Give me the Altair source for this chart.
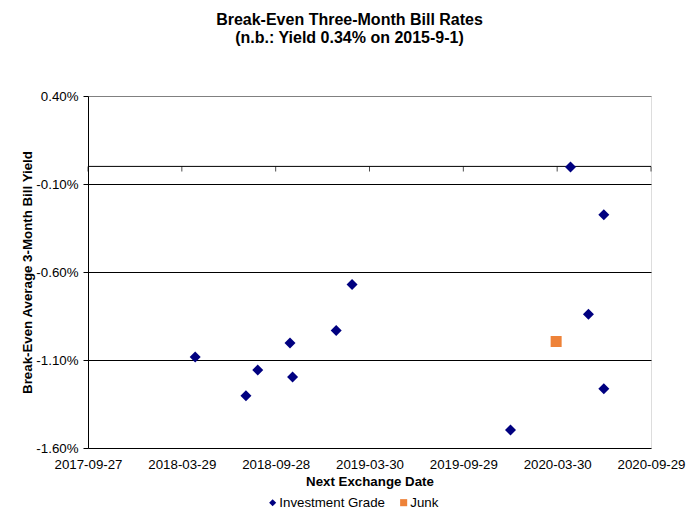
import altair as alt
import pandas as pd

# ---- data ----
ig_dates = ["2018-04-24", "2018-08-01", "2018-08-24", "2018-10-26", "2018-10-31",
            "2019-01-24", "2019-02-24", "2019-12-30", "2020-04-25", "2020-05-30",
            "2020-06-29", "2020-06-29"]
ig_yields = [-1.083, -1.303, -1.157, -1.004, -1.196,
             -0.933, -0.671, -1.498, -0.003, -0.840,
             -0.275, -1.264]
junk_dates = ["2020-03-28"]
junk_yields = [-0.995]

series_names = ["Investment Grade", "Junk"]
series_colors = ["#000080", "#EE8238"]
series_shapes = ["diamond", "square"]

x_tick_dates = ["2017-09-27", "2018-03-29", "2018-09-28", "2019-03-30",
                "2019-09-29", "2020-03-30", "2020-09-29"]
y_tick_values = [0.4, -0.1, -0.6, -1.1, -1.6]
x_axis_crossing = [0.0]

title_lines = ["Break-Even Three-Month Bill Rates", "(n.b.: Yield 0.34% on 2015-9-1)"]
x_title = "Next Exchange Date"
y_title = "Break-Even Average 3-Month  Bill Yield"

FONT = "Liberation Sans"


def to_dt(s):
    y, m, d = (int(v) for v in s.split("-"))
    return alt.DateTime(year=y, month=m, date=d, utc=True)


df = pd.DataFrame({
    "date": ig_dates + junk_dates,
    "yield": ig_yields + junk_yields,
    "series": [series_names[0]] * len(ig_dates) + [series_names[1]] * len(junk_dates),
})
ticks_df = pd.DataFrame({"date": x_tick_dates, "yield": x_axis_crossing * len(x_tick_dates)})
zero_df = pd.DataFrame({"yield": x_axis_crossing})

x_scale = alt.Scale(type="utc", domain=[to_dt(x_tick_dates[0]), to_dt(x_tick_dates[-1])])
y_scale = alt.Scale(domain=[y_tick_values[-1], y_tick_values[0]], nice=False, zero=False)

legend = alt.Legend(
    title=None, orient="none", direction="horizontal",
    legendX=178, legendY=400,
    symbolSize=50, symbolStrokeWidth=0,
    labelFont=FONT, labelFontSize=13.3, labelColor="black",
    labelOffset=0, columnPadding=12, padding=0,
)

x_axis = alt.Axis(
    title=x_title, values=[to_dt(s) for s in x_tick_dates],
    labelExpr="utcFormat(datum.value, '%Y-%m-%d')",
    ticks=False, domain=False, grid=False,
    labelPadding=9, labelFlush=False, labelOverlap=False,
    labelFont=FONT, labelFontSize=13.3, labelColor="black",
    titleFont=FONT, titleFontSize=13.3, titleFontWeight="bold",
    titleColor="black", titlePadding=4,
)
y_axis = alt.Axis(
    title=y_title, values=y_tick_values,
    labelExpr="(datum.value < 0 ? '-' : '') + format(abs(datum.value), '.2f') + '%'",
    tickSize=5, tickColor="black", domainColor="black",
    grid=True,
    gridColor=alt.condition("datum.value > 0.3", alt.value("#808080"), alt.value("black")),
    labelPadding=5, labelFont=FONT, labelFontSize=13.3, labelColor="black",
    titleFont=FONT, titleFontSize=13.3, titleFontWeight="bold", titleColor="black",
    titleX=-61, titleY=176, titleBaseline="middle",
)

# horizontal axis line crossing at 0
zero_rule = alt.Chart(zero_df).mark_rule(color="black", strokeWidth=1).encode(
    y=alt.Y("yield:Q", scale=y_scale, axis=y_axis)
)

# tick marks on the crossing axis
zero_ticks = alt.Chart(ticks_df).mark_tick(
    orient="vertical", size=5, thickness=1, color="black", yOffset=2.5
).encode(
    x=alt.X("date:T", scale=x_scale, axis=x_axis),
    y=alt.Y("yield:Q", scale=y_scale, axis=y_axis),
)

points = alt.Chart(df).mark_point(filled=True, size=121, opacity=1).encode(
    x=alt.X("date:T", scale=x_scale, axis=x_axis),
    y=alt.Y("yield:Q", scale=y_scale, axis=y_axis),
    color=alt.Color("series:N", scale=alt.Scale(domain=series_names, range=series_colors), legend=legend),
    shape=alt.Shape("series:N", scale=alt.Scale(domain=series_names, range=series_shapes), legend=legend),
)

chart = alt.layer(zero_rule, zero_ticks, points).properties(
    width=563, height=352,
    padding={"left": 80, "top": 88, "right": 39, "bottom": 61},
    autosize=alt.AutoSizeParams(type="none"),
    title=alt.TitleParams(
        text=title_lines, font=FONT, fontSize=16, fontWeight="bold",
        color="black", anchor="middle", dx=-20, offset=43, lineHeight=18,
    ),
).configure_view(stroke="#808080", strokeWidth=1).configure(background="white")

chart.save("out.html", embed_options={"renderer": "svg", "actions": False})
